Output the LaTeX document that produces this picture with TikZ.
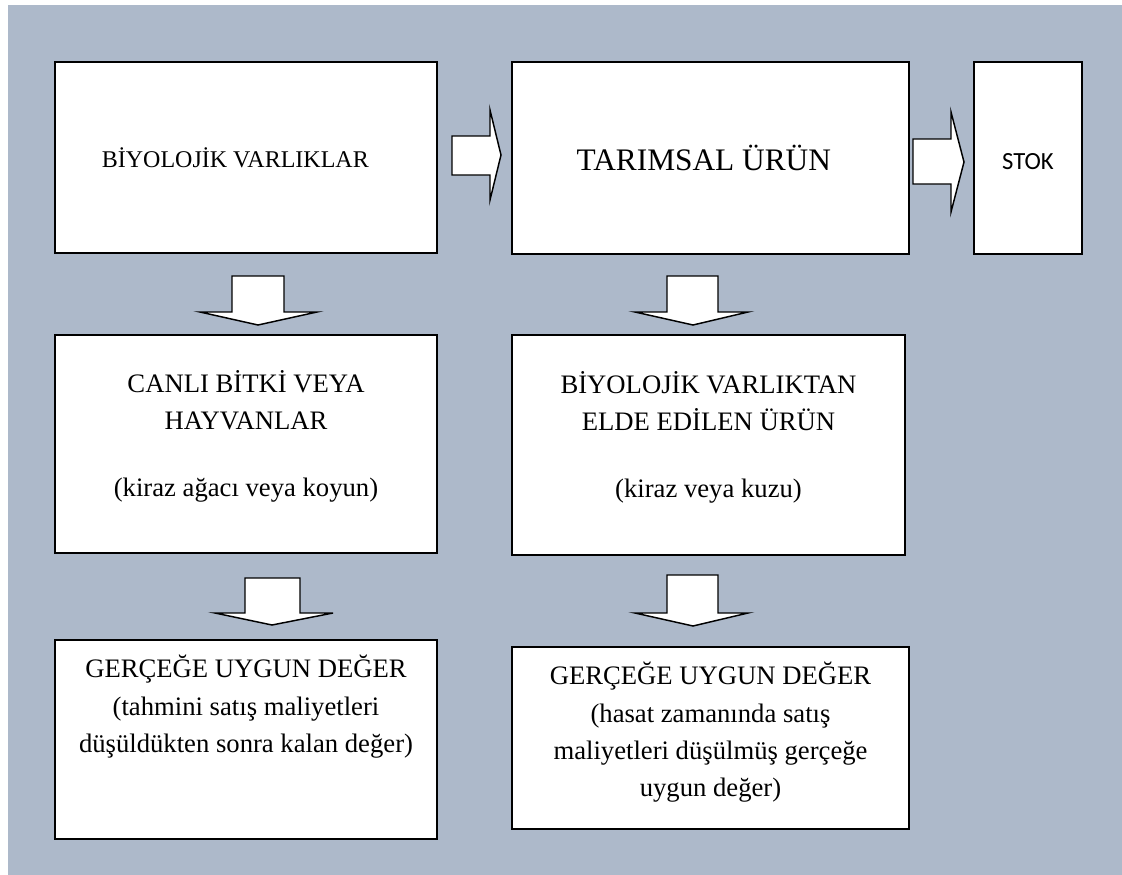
\documentclass[tikz,border=0pt]{standalone}
\usepackage{fontspec}
\setmainfont{Liberation Serif}
\newfontfamily\calfont{Carlito}
\definecolor{bgc}{HTML}{ADB9CA}
\tikzset{
 box/.style={draw=black, line width=1.5pt, fill=white, inner sep=0pt},
 txt/.style={align=center, font=\fontsize{20}{28}\selectfont, inner sep=0pt},
 blk/.style={draw=black, line width=1.1pt, fill=white, line join=miter},
}
\begin{document}
\begin{tikzpicture}[x=0.75pt,y=-0.75pt]
\useasboundingbox (0,0) rectangle (1122,875);
\fill[bgc] (8,5) rectangle (1122,875);
% boxes
\node[box, minimum width=286.5pt, minimum height=143.25pt] (b1) at (246,157.5) {};
\node[box, minimum width=297.75pt, minimum height=144pt] (b2) at (710.5,158) {};
\node[box, minimum width=81pt, minimum height=144pt] (b3) at (1028,158) {};
\node[box, minimum width=286.5pt, minimum height=163.5pt] (b4) at (246,444) {};
\node[box, minimum width=294.75pt, minimum height=165pt] (b5) at (708.5,445) {};
\node[box, minimum width=286.5pt, minimum height=149.25pt] (b6) at (246,739.5) {};
\node[box, minimum width=297.75pt, minimum height=136.5pt] (b7) at (710.5,738) {};
% texts
\node[txt, font=\fontsize{18}{22}\selectfont] (t1) at ([xshift=-8pt]b1.center) {BİYOLOJİK VARLIKLAR};
\node[txt, font=\fontsize{23.5}{28}\selectfont] (t2) at ([xshift=-5pt]b2.center) {TARIMSAL ÜRÜN};
\node[txt, font=\calfont\fontsize{18.5}{22}\selectfont] (t3) at ([yshift=-3pt]b3.center) {STOK};
\node[txt] (t4) at ([yshift=6pt]b4.center) {CANLI BİTKİ VEYA\\HAYVANLAR\\[22pt](kiraz ağacı veya koyun)};
\node[txt] (t5) at ([yshift=6pt]b5.center) {BİYOLOJİK VARLIKTAN\\ELDE EDİLEN ÜRÜN\\[22pt](kiraz veya kuzu)};
\node[txt, anchor=north] (t6) at ([yshift=-12pt]b6.north) {GERÇEĞE UYGUN DEĞER\\(tahmini satış maliyetleri\\düşüldükten sonra kalan değer)};
\node[txt, anchor=north] (t7) at ([yshift=-12pt]b7.north) {GERÇEĞE UYGUN DEĞER\\(hasat zamanında satış\\maliyetleri düşülmüş gerçeğe\\uygun değer)};
% block arrows
\draw[blk] (452,136) -- (490,136) -- (490,110) -- (501,155) -- (490,200) -- (490,175) -- (452,175) -- cycle;
\draw[blk] (913,139) -- (951,139) -- (951,112) -- (964,162) -- (951,212) -- (951,184) -- (913,184) -- cycle;
\draw[blk] (232,276) -- (284,276) -- (284,312) -- (317,312) -- (258,325) -- (200,312) -- (232,312) -- cycle;
\draw[blk] (667,276) -- (718,276) -- (718,312) -- (748,312) -- (693,325) -- (635,312) -- (667,312) -- cycle;
\draw[blk] (245,578) -- (300,578) -- (300,613) -- (333,613) -- (272,625) -- (215,613) -- (245,613) -- cycle;
\draw[blk] (667,575) -- (718,575) -- (718,613) -- (748,613) -- (693,626) -- (635,613) -- (667,613) -- cycle;
\end{tikzpicture}
\end{document}
